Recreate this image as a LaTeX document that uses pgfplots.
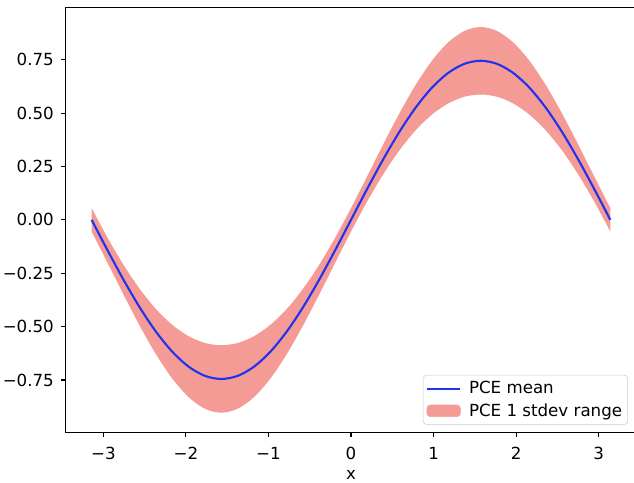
\documentclass[border=0pt]{standalone}
\usepackage{fontspec}
\setmainfont{DejaVu Sans}
\usepackage{pgfplots}
\usepackage{pgfplotstable}
\usepgfplotslibrary{fillbetween}
\pgfplotsset{compat=1.18}

\definecolor{meanblue}{RGB}{30,50,240}
\definecolor{bandred}{RGB}{243,155,148}
\definecolor{legedge}{RGB}{204,204,204}

\pgfplotsset{
  lineleg/.style={legend image code/.code={\draw[##1] (2pt,0pt) -- (26pt,0pt);}},
  bandleg/.style={legend image code/.code={\fill[bandred] (2pt,-4.2pt) rectangle (26pt,4.2pt);}},
}

% x, PCE mean, mean - 1 stdev, mean + 1 stdev
\pgfplotstableread{
x        m         lo        hi
-3.14159  0.00000  -0.05500   0.05500
-2.94524 -0.14534  -0.20426  -0.08642
-2.74889 -0.28510  -0.35518  -0.21502
-2.55254 -0.41390  -0.50069  -0.32711
-2.35619 -0.52680  -0.63330  -0.42030
-2.15984 -0.61945  -0.74566  -0.49324
-1.96350 -0.68829  -0.83121  -0.54537
-1.76715 -0.73069  -0.88477  -0.57661
-1.57080 -0.74500  -0.90300  -0.58700
-1.37445 -0.73069  -0.88477  -0.57661
-1.17810 -0.68829  -0.83121  -0.54537
-0.98175 -0.61945  -0.74566  -0.49324
-0.78540 -0.52680  -0.63330  -0.42030
-0.58905 -0.41390  -0.50069  -0.32711
-0.39270 -0.28510  -0.35518  -0.21502
-0.19635 -0.14534  -0.20426  -0.08642
 0.00000  0.00000  -0.05500   0.05500
 0.19635  0.14534   0.08642   0.20426
 0.39270  0.28510   0.21502   0.35518
 0.58905  0.41390   0.32711   0.50069
 0.78540  0.52680   0.42030   0.63330
 0.98175  0.61945   0.49324   0.74566
 1.17810  0.68829   0.54537   0.83121
 1.37445  0.73069   0.57661   0.88477
 1.57080  0.74500   0.58700   0.90300
 1.76715  0.73069   0.57661   0.88477
 1.96350  0.68829   0.54537   0.83121
 2.15984  0.61945   0.49324   0.74566
 2.35619  0.52680   0.42030   0.63330
 2.55254  0.41390   0.32711   0.50069
 2.74889  0.28510   0.21502   0.35518
 2.94524  0.14534   0.08642   0.20426
 3.14159  0.00000  -0.05500   0.05500
}\pcedata

\begin{document}
\begin{tikzpicture}
\begin{axis}[
  scale only axis,
  width=410.8pt,
  height=306pt,
  xmin=-3.456, xmax=3.456,
  ymin=-0.995, ymax=0.995,
  xtick={-3,-2,-1,0,1,2,3},
  xticklabels={−3,−2,−1,0,1,2,3},
  ytick={-0.75,-0.5,-0.25,0,0.25,0.5,0.75},
  yticklabels={−0.75,−0.50,−0.25,0.00,0.25,0.50,0.75},
  tick align=outside,
  major tick length=3.5pt,
  tick style={line width=0.8pt, black},
  xtick pos=bottom, ytick pos=left,
  axis line style={line width=0.8pt},
  tick label style={font=\fontsize{12}{14.4}\selectfont},
  xticklabel style={yshift=-3.5pt},
  yticklabel style={xshift=-1.5pt},
  xlabel={x},
  xlabel style={font=\fontsize{12}{14.4}\selectfont, yshift=-1pt},
  legend cell align=left,
  legend style={
    at={(axis description cs:1,0)}, anchor=south east,
    xshift=-6pt, yshift=5.5pt,
    draw=legedge, rounded corners=2.5pt,
    font=\fontsize{12}{14.4}\selectfont,
    inner xsep=2pt, inner ysep=2.5pt,
    row sep=1.5pt,
    /tikz/every odd column/.append style={column sep=3.5pt},
  },
]
\addplot[draw=none, name path=hi, smooth, forget plot] table[x=x, y=hi] {\pcedata};
\addplot[draw=none, name path=lo, smooth, forget plot] table[x=x, y=lo] {\pcedata};
\addplot[fill=bandred, draw=none, forget plot] fill between[of=hi and lo];
\addplot[meanblue, line width=1.5pt, smooth, lineleg] table[x=x, y=m] {\pcedata};
\addlegendentry{PCE mean}
\addlegendimage{bandleg}
\addlegendentry{PCE 1 stdev range}
\end{axis}
\pgfresetboundingbox
\path ([xshift=-47.3pt,yshift=-35.8pt]current axis.south west)
  rectangle ([xshift=-1.66pt,yshift=5.3pt]current axis.north east);
\end{tikzpicture}
\end{document}
